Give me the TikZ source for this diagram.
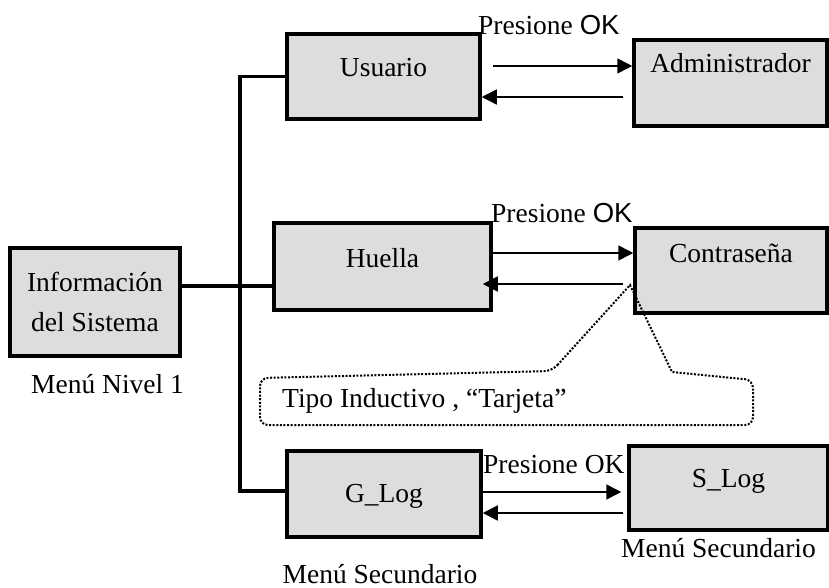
\documentclass[tikz,border=0pt]{standalone}
\usepackage{fontspec}
\setmainfont{Liberation Serif}
\newfontfamily\okfont{Liberation Sans}
\usetikzlibrary{arrows.meta,calc}
\definecolor{boxfill}{RGB}{221,221,221}
\begin{document}
\begin{tikzpicture}[x=1pt,y=-1pt,
  txt/.style={font=\fontsize{27.5}{40}\selectfont, inner sep=0pt},
  menubox/.style={txt, draw=black, fill=boxfill, line width=3.5pt, minimum width=#1},
  trunk/.style={line width=3.5pt},
  arr/.style={line width=1.5pt, -{Triangle[length=15pt,width=15pt]}},
  callout/.style={line width=2pt, dash pattern=on 2pt off 1.6pt},
]
\useasboundingbox (0,0) rectangle (829,588);

% menu boxes
\node[menubox=170, align=center, minimum height=108] (info) at (95,302) {Información\\del Sistema};
\node[menubox=193, text height=43pt, text depth=42pt, anchor=base] (usuario) at (383.5,77) {Usuario};
\node[menubox=193, text height=33pt, text depth=53pt, anchor=base] (admin) at (730.5,73) {Administrador};
\node[menubox=217, text height=44pt, text depth=43pt, anchor=base] (huella) at (382.5,267) {Huella};
\node[menubox=192, text height=34pt, text depth=51pt, anchor=base] (contra) at (731,262) {Contraseña};
\node[menubox=194, text height=51pt, text depth=35pt, anchor=base] (glog) at (384,502) {G\_Log};
\node[menubox=199, text height=41pt, text depth=43pt, anchor=base] (slog) at (728.5,487) {S\_Log};

% captions
\node[txt, anchor=base] (lvl1) at (107.5,393) {Menú Nivel 1};
\node[txt, anchor=base] (sec1) at (380,583) {Menú Secundario};
\node[txt, anchor=base] (sec2) at (718.5,557) {Menú Secundario};

% arrow labels
\node[txt, anchor=base west] (ok1) at (478,35) {Presione {\okfont OK}};
\node[txt, anchor=base west] (ok2) at (491,222) {Presione {\okfont OK}};
\node[txt, anchor=base west] (ok3) at (483,473) {Presione OK};

% tree connectors
\coordinate (bus) at (240,0);
\draw[trunk] (usuario.west) -| ($(bus |- glog.west)+(0,-3)$) -- ($(glog.west)+(0,-3)$);
\draw[trunk] (info.east |- 0,286) -- (huella.west |- 0,286);

% forward / back arrows
\draw[arr] ($(usuario.east |- 0,66)+(11,0)$) -- (admin.west |- 0,66);
\draw[arr] ($(admin.west |- 0,97)+(-9,0)$) -- (usuario.east |- 0,97);
\draw[arr] (huella.east |- 0,253) -- (contra.west |- 0,253);
\draw[arr] ($(contra.west |- 0,284)+(-10,0)$) -- ($(huella.east |- 0,284)+(-10,0)$);
\draw[arr] (glog.east |- 0,492) -- ($(slog.west |- 0,492)+(-6,0)$);
\draw[arr] ($(slog.west |- 0,513)+(-4,0)$) -- (glog.east |- 0,513);

% callout
\draw[callout] (552,371) -- (630,285) -- (672,372) [rounded corners=8pt] -- (753,380) -- (753,425) -- (260,425) -- (260,378) -- cycle;
\node[txt, anchor=base west] (tipo) at (282,407) {Tipo Inductivo , “Tarjeta”};
\end{tikzpicture}
\end{document}
